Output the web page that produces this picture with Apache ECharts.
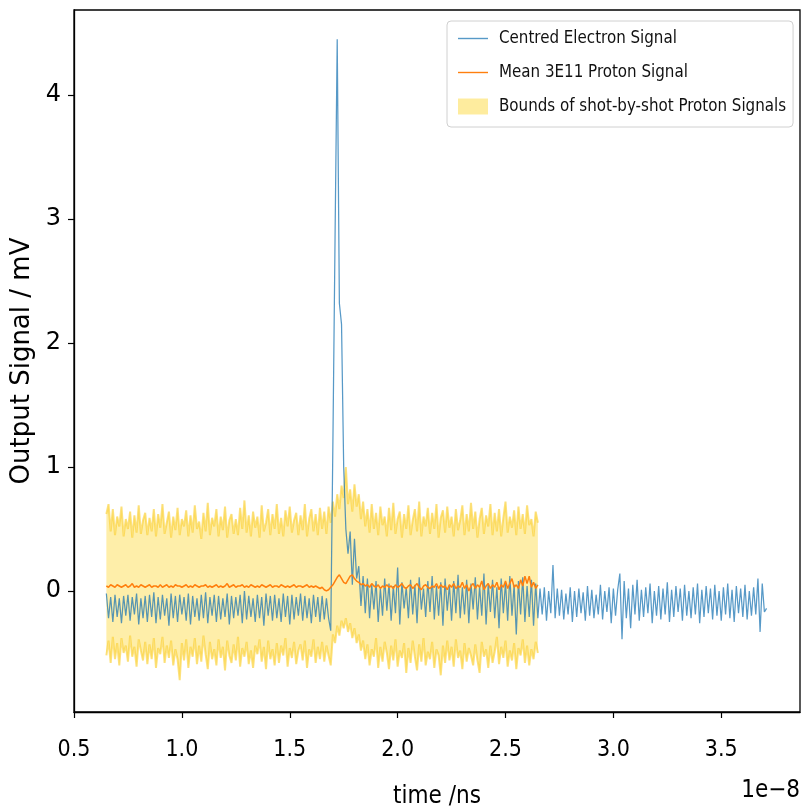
<!DOCTYPE html>
<html>
<head>
<meta charset="utf-8">
<script src="https://cdn.jsdelivr.net/npm/echarts@6/dist/echarts.min.js"></script>
<style>html,body{margin:0;padding:0;background:#fff;}#chart{width:804px;height:809px;}</style>
</head>
<body>
<div id="chart"></div>
<script>
// time grid (units of 1e-8), sample spacing
const electronStart = 0.65;
const protonStart = 0.65;
const sampleStep = 0.01;

const xTickValues = [0.5, 1.0, 1.5, 2.0, 2.5, 3.0, 3.5];
const yTickValues = [0, 1, 2, 3, 4];

// Centred electron signal (mV), samples from 0.65 to 3.71
const electronSignal = [
 -0.02,-0.22,-0.05,-0.25,-0.03,-0.21,-0.06,-0.26,-0.04,-0.20,
 -0.03,-0.24,-0.05,-0.19,-0.02,-0.27,-0.06,-0.22,-0.04,-0.25,
 -0.03,-0.21,-0.01,-0.26,-0.05,-0.23,-0.03,-0.20,-0.06,-0.28,
 -0.02,-0.22,-0.04,-0.25,-0.03,-0.19,-0.05,-0.24,-0.02,-0.27,
 -0.04,-0.21,-0.06,-0.24,-0.03,-0.22,-0.01,-0.26,-0.05,-0.20,
 -0.03,-0.25,-0.04,-0.23,-0.06,-0.21,-0.02,-0.27,-0.04,-0.22,
 -0.05,-0.20,-0.03,-0.26,0.00,-0.23,-0.04,-0.21,-0.06,-0.25,
 -0.03,-0.22,-0.05,-0.28,-0.02,-0.20,-0.04,-0.24,-0.03,-0.22,
 -0.06,-0.25,-0.02,-0.21,-0.04,-0.27,-0.03,-0.23,-0.05,-0.20,
 -0.02,-0.24,-0.04,-0.22,-0.06,-0.26,-0.03,-0.21,-0.05,-0.25,
 -0.04,-0.23,-0.06,-0.22,-0.32,1.20,2.85,4.45,2.32,2.15,
 1.00,0.50,0.30,0.48,0.05,0.42,0.10,0.20,-0.12,0.12,
 -0.18,0.10,-0.22,0.05,-0.15,0.08,-0.25,0.02,-0.20,0.10,
 -0.16,0.06,-0.24,0.04,-0.18,0.19,-0.27,0.07,-0.14,0.03,
 -0.22,0.09,-0.19,0.05,-0.26,0.11,-0.15,0.02,-0.21,0.08,
 -0.17,0.12,-0.23,0.04,-0.20,0.07,-0.28,0.10,-0.16,0.05,
 -0.24,0.08,-0.18,0.13,-0.22,0.03,-0.19,0.09,-0.26,0.06,
 -0.15,0.11,-0.23,0.04,-0.20,0.14,-0.27,0.06,-0.17,0.09,
 -0.22,0.03,-0.30,0.10,-0.18,0.07,-0.24,0.12,-0.20,0.05,
 -0.35,0.08,-0.19,0.11,-0.25,0.04,-0.21,0.09,-0.28,0.06,
 -0.22,0.02,-0.19,0.03,-0.24,0.00,-0.18,0.21,-0.22,0.02,
 -0.20,0.01,-0.23,-0.02,-0.19,0.03,-0.25,0.00,-0.21,0.02,
 -0.18,-0.01,-0.24,0.04,-0.20,0.01,-0.22,-0.03,-0.19,0.05,
 -0.23,0.00,-0.17,0.03,-0.26,0.02,-0.20,0.01,0.14,-0.39,
 0.08,-0.22,0.02,-0.30,0.05,-0.19,0.09,-0.24,0.01,-0.21,
 0.03,-0.18,0.06,-0.26,0.00,-0.20,0.04,-0.23,0.02,-0.19,
 0.07,-0.25,0.01,-0.21,0.04,-0.17,0.02,-0.24,0.05,-0.20,
 0.00,-0.22,0.03,-0.19,0.06,-0.26,0.01,-0.21,0.04,-0.18,
 0.02,-0.23,0.05,-0.20,0.00,-0.24,0.03,-0.19,0.06,-0.22,
 0.01,-0.25,0.04,-0.18,0.02,-0.21,0.05,-0.23,0.00,-0.20,
 0.03,-0.19,0.10,-0.33,0.06,-0.17,-0.14
];

// Mean 3E11 proton signal (mV), samples from 0.65 to 2.65
const protonMean = [
 0.04,0.03,0.05,0.04,0.03,0.05,0.04,0.03,0.04,0.05,
 0.03,0.04,0.06,0.03,0.04,0.03,0.05,0.04,0.03,0.04,
 0.05,0.03,0.04,0.04,0.03,0.05,0.03,0.04,0.05,0.03,
 0.04,0.03,0.05,0.04,0.04,0.03,0.04,0.05,0.03,0.04,
 0.03,0.05,0.04,0.03,0.04,0.04,0.05,0.03,0.04,0.03,
 0.04,0.05,0.03,0.04,0.03,0.04,0.06,0.03,0.04,0.05,
 0.03,0.04,0.04,0.05,0.03,0.04,0.03,0.05,0.04,0.03,
 0.04,0.03,0.05,0.04,0.03,0.04,0.05,0.03,0.04,0.04,
 0.03,0.05,0.04,0.03,0.04,0.03,0.04,0.05,0.03,0.04,
 0.04,0.03,0.04,0.05,0.03,0.04,0.03,0.04,0.03,0.02,
 0.03,0.01,0.00,0.01,0.03,0.05,0.08,0.11,0.13,0.10,
 0.07,0.06,0.09,0.12,0.13,0.10,0.08,0.07,0.05,0.06,
 0.04,0.05,0.03,0.06,0.04,0.03,0.05,0.02,0.04,0.03,
 0.05,0.03,0.04,0.02,0.05,0.03,0.04,0.06,0.03,0.02,
 0.04,0.05,0.02,0.04,0.06,0.03,0.01,0.04,0.05,0.03,
 0.02,0.04,0.03,0.06,0.02,0.05,0.03,0.04,0.01,0.05,
 0.03,0.06,0.02,0.04,0.03,0.07,0.02,0.05,0.00,0.04,
 0.06,0.02,0.05,0.03,0.08,0.01,0.04,0.06,0.02,0.05,
 0.03,0.07,0.01,0.05,0.03,0.08,0.02,0.06,0.10,0.03,
 0.05,0.02,0.09,0.04,0.12,0.06,0.12,0.03,0.07,0.02,
 0.05
];

// Upper bound of shot-by-shot proton signals (mV)
const protonUpper = [
 0.62,0.70,0.48,0.66,0.45,0.60,0.52,0.68,0.44,0.58,
 0.50,0.64,0.43,0.61,0.47,0.69,0.46,0.57,0.63,0.45,
 0.59,0.48,0.66,0.44,0.62,0.51,0.70,0.46,0.55,0.64,
 0.43,0.60,0.49,0.67,0.45,0.58,0.52,0.65,0.44,0.61,
 0.47,0.69,0.50,0.56,0.42,0.63,0.48,0.71,0.45,0.59,
 0.52,0.66,0.44,0.60,0.49,0.68,0.43,0.57,0.62,0.46,
 0.58,0.45,0.67,0.50,0.73,0.47,0.61,0.44,0.64,0.51,
 0.60,0.43,0.69,0.48,0.55,0.66,0.45,0.62,0.50,0.70,
 0.46,0.59,0.44,0.65,0.52,0.68,0.47,0.57,0.63,0.45,
 0.61,0.49,0.70,0.44,0.58,0.66,0.48,0.62,0.45,0.67,
 0.50,0.64,0.46,0.68,0.55,0.72,0.60,0.78,0.66,0.85,
 0.75,1.00,0.70,0.82,0.64,0.86,0.68,0.78,0.58,0.72,
 0.52,0.66,0.47,0.70,0.50,0.63,0.45,0.68,0.53,0.60,
 0.44,0.67,0.49,0.71,0.46,0.58,0.64,0.43,0.62,0.50,
 0.69,0.45,0.57,0.66,0.48,0.72,0.44,0.60,0.52,0.67,
 0.46,0.63,0.50,0.70,0.43,0.59,0.65,0.47,0.68,0.51,
 0.60,0.44,0.66,0.49,0.57,0.69,0.45,0.62,0.48,0.71,
 0.50,0.64,0.43,0.58,0.67,0.46,0.61,0.52,0.70,0.45,
 0.63,0.48,0.66,0.44,0.59,0.72,0.47,0.60,0.51,0.65,
 0.45,0.68,0.50,0.62,0.46,0.69,0.53,0.58,0.44,0.64,
 0.55
];

// Lower bound of shot-by-shot proton signals (mV)
const protonLower = [
 -0.52,-0.40,-0.58,-0.37,-0.55,-0.42,-0.60,-0.38,-0.50,-0.44,
 -0.57,-0.36,-0.53,-0.45,-0.61,-0.39,-0.48,-0.56,-0.41,-0.59,
 -0.43,-0.55,-0.38,-0.62,-0.46,-0.51,-0.37,-0.58,-0.44,-0.54,
 -0.40,-0.60,-0.47,-0.55,-0.72,-0.42,-0.56,-0.39,-0.62,-0.45,
 -0.53,-0.38,-0.59,-0.44,-0.57,-0.36,-0.51,-0.63,-0.41,-0.55,
 -0.47,-0.60,-0.39,-0.54,-0.45,-0.64,-0.40,-0.52,-0.58,-0.43,
 -0.56,-0.37,-0.61,-0.46,-0.53,-0.41,-0.59,-0.48,-0.62,-0.44,
 -0.51,-0.39,-0.57,-0.45,-0.63,-0.40,-0.55,-0.47,-0.60,-0.42,
 -0.58,-0.44,-0.52,-0.38,-0.61,-0.46,-0.54,-0.41,-0.59,-0.48,
 -0.43,-0.56,-0.40,-0.62,-0.47,-0.53,-0.39,-0.58,-0.45,-0.55,
 -0.41,-0.57,-0.44,-0.52,-0.60,-0.35,-0.42,-0.28,-0.36,-0.24,
 -0.30,-0.22,-0.33,-0.26,-0.38,-0.30,-0.42,-0.35,-0.48,-0.40,
 -0.55,-0.43,-0.60,-0.47,-0.53,-0.38,-0.62,-0.45,-0.57,-0.41,
 -0.50,-0.63,-0.44,-0.56,-0.39,-0.61,-0.48,-0.54,-0.42,-0.66,
 -0.46,-0.58,-0.40,-0.53,-0.64,-0.43,-0.57,-0.38,-0.60,-0.49,
 -0.55,-0.41,-0.62,-0.47,-0.52,-0.68,-0.44,-0.58,-0.40,-0.56,
 -0.45,-0.61,-0.39,-0.54,-0.48,-0.63,-0.42,-0.57,-0.46,-0.52,
 -0.60,-0.43,-0.56,-0.66,-0.41,-0.53,-0.47,-0.62,-0.44,-0.58,
 -0.49,-0.37,-0.59,-0.45,-0.54,-0.40,-0.61,-0.48,-0.56,-0.42,
 -0.63,-0.46,-0.52,-0.39,-0.58,-0.44,-0.60,-0.47,-0.55,-0.41,
 -0.50
];

const seriesNames = ['Centred Electron Signal', 'Mean 3E11 Proton Signal', 'Bounds of shot-by-shot Proton Signals'];

const tAt = (start, i) => +(start + i * sampleStep).toFixed(4);
const electronData = electronSignal.map((v, i) => [tAt(electronStart, i), v]);
const meanData = protonMean.map((v, i) => [tAt(protonStart, i), v]);
const lowerData = protonLower.map((v, i) => [tAt(protonStart, i), v]);
const upperData = protonUpper.map((v, i) => [tAt(protonStart, i), v]);

const font = "'DejaVu Sans', sans-serif";
const condensed = "'DejaVu Sans Condensed', 'DejaVu Sans', sans-serif";
const blue = 'rgba(31,119,180,0.75)';
const orange = '#ff7f0e';
const bandFill = 'rgba(253,212,40,0.40)';
const bandEdge = 'rgba(250,205,40,0.6)';
const lineIcon = 'path://M0,0 H30 V1.4 H0 Z';

const chart = echarts.init(document.getElementById('chart'), null, {renderer: 'canvas'});
chart.setOption({
  animation: false,
  backgroundColor: '#fff',
  grid: {left: 74, right: 4, top: 10, bottom: 97, outerBoundsMode: 'none', containLabel: false,
         show: true, borderColor: '#000', borderWidth: 1.3, backgroundColor: 'transparent'},
  legend: {
    left: 447, top: 21, orient: 'vertical',
    padding: [9, 7, 12, 11],
    itemWidth: 30, itemHeight: 16, itemGap: 17,
    backgroundColor: 'rgba(255,255,255,0.85)',
    borderColor: '#d0d0d0', borderWidth: 1, borderRadius: 4,
    textStyle: {fontFamily: condensed, fontSize: 16.8, color: '#111', padding: [0, 0, 0, 6]},
    data: [
      {name: seriesNames[0], icon: lineIcon, itemStyle: {color: blue}},
      {name: seriesNames[1], icon: lineIcon, itemStyle: {color: orange}},
      {name: seriesNames[2], icon: 'rect', itemStyle: {color: 'rgba(253,212,40,0.45)', borderWidth: 0}}
    ]
  },
  xAxis: {
    type: 'value', min: 0.5, max: 3.865,
    name: 'time /ns', nameLocation: 'middle', nameGap: 73,
    nameTextStyle: {fontFamily: condensed, fontSize: 24, color: '#000'},
    axisLine: {show: true, onZero: false, lineStyle: {color: '#000', width: 1.3}},
    axisTick: {show: true, length: 6, lineStyle: {color: '#000', width: 1.2}, customValues: xTickValues},
    axisLabel: {fontFamily: condensed, fontSize: 23, color: '#000', margin: 27, customValues: xTickValues, formatter: v => v.toFixed(1)},
    splitLine: {show: false}
  },
  yAxis: {
    type: 'value', min: -0.976, max: 4.685,
    name: 'Output Signal / mV', nameLocation: 'middle', nameGap: 36, nameRotate: 90,
    nameTextStyle: {fontFamily: font, fontSize: 26, color: '#000'},
    axisLine: {show: true, onZero: false, lineStyle: {color: '#000', width: 1.3}},
    axisTick: {show: true, length: 6, lineStyle: {color: '#000', width: 1.2}, customValues: yTickValues},
    axisLabel: {fontFamily: font, fontSize: 24, color: '#000', margin: 13, customValues: yTickValues, formatter: v => String(v)},
    splitLine: {show: false}
  },
  graphic: [{
    type: 'text', right: 4, top: 779,
    style: {text: '1e\u22128', font: "24px " + condensed, fill: '#000', textAlign: 'right'}
  }],
  series: [
    {
      name: seriesNames[2], type: 'custom', data: [[protonStart, 0]], itemStyle: {color: bandFill}, z: 1,
      renderItem: function (params, api) {
        if (params.dataIndex !== 0) return;
        const pts = [];
        for (let i = 0; i < upperData.length; i++) pts.push(api.coord(upperData[i]));
        for (let i = lowerData.length - 1; i >= 0; i--) pts.push(api.coord(lowerData[i]));
        return {type: 'polygon', shape: {points: pts}, style: {fill: bandFill, stroke: null}};
      }
    },
    {
      name: 'upperBound', type: 'line', data: upperData, symbol: 'none', showSymbol: false,
      lineStyle: {color: bandEdge, width: 2}, z: 1
    },
    {
      name: 'lowerBound', type: 'line', data: lowerData, symbol: 'none', showSymbol: false,
      lineStyle: {color: bandEdge, width: 2}, z: 1
    },
    {
      name: seriesNames[0], type: 'line', data: electronData, symbol: 'none', showSymbol: false,
      sampling: null, lineStyle: {color: blue, width: 1.25}, itemStyle: {color: blue}, z: 2
    },
    {
      name: seriesNames[1], type: 'line', data: meanData, symbol: 'none', showSymbol: false,
      lineStyle: {color: orange, width: 1.5}, itemStyle: {color: orange}, z: 3
    }
  ]
});
</script>
</body>
</html>
